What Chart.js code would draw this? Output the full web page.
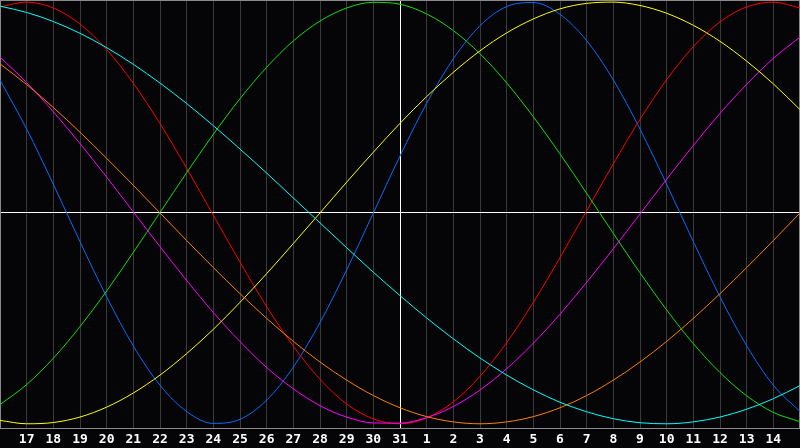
<!DOCTYPE html>
<html><head><meta charset="utf-8">
<script src="https://cdn.jsdelivr.net/npm/chart.js@4.4.1/dist/chart.umd.min.js"></script>
<style>html,body{margin:0;padding:0;background:#050508;overflow:hidden}#wrap{width:800px;height:448px;position:relative}</style>
</head><body><div id="wrap"><canvas id="c" width="800" height="448"></canvas></div>
<script>
const dayLabels = ['16','17','18','19','20','21','22','23','24','25','26','27','28','29','30','31','1','2','3','4','5','6','7','8','9','10','11','12','13','14','15'];
const physical = [0.630,0.398,0.136,-0.136,-0.398,-0.631,-0.817,-0.942,-0.998,-0.979,-0.888,-0.731,-0.520,-0.270,0.000,0.270,0.520,0.731,0.888,0.979,0.998,0.942,0.817,0.631,0.398,0.136,-0.136,-0.398,-0.630,-0.817,-0.942];
const emotional = [0.977,1.000,0.972,0.896,0.775,0.615,0.424,0.212,-0.011,-0.233,-0.444,-0.632,-0.789,-0.906,-0.977,-1.000,-0.972,-0.896,-0.775,-0.615,-0.424,-0.212,0.011,0.233,0.444,0.632,0.789,0.906,0.977,1.000,0.972];
const intellectual = [-0.909,-0.814,-0.689,-0.539,-0.370,-0.187,0.002,0.191,0.373,0.542,0.691,0.816,0.910,0.972,0.999,0.990,0.944,0.865,0.755,0.617,0.456,0.280,0.093,-0.097,-0.284,-0.460,-0.620,-0.757,-0.867,-0.946,-0.990];
const intuitive = [0.739,0.618,0.480,0.329,0.170,0.005,-0.160,-0.320,-0.472,-0.610,-0.733,-0.834,-0.914,-0.968,-0.996,-0.997,-0.971,-0.918,-0.840,-0.739,-0.618,-0.480,-0.329,-0.170,-0.005,0.160,0.320,0.472,0.610,0.733,0.834];
const aesthetic = [-0.984,-1.000,-0.994,-0.968,-0.921,-0.854,-0.769,-0.667,-0.552,-0.424,-0.288,-0.145,0.000,0.146,0.288,0.425,0.552,0.667,0.769,0.854,0.920,0.968,0.994,1.000,0.984,0.947,0.890,0.814,0.720,0.612,0.490];
const awareness = [0.707,0.609,0.500,0.383,0.259,0.131,0.000,-0.131,-0.259,-0.383,-0.500,-0.609,-0.707,-0.793,-0.866,-0.924,-0.966,-0.991,-1.000,-0.991,-0.966,-0.924,-0.866,-0.793,-0.707,-0.609,-0.500,-0.383,-0.259,-0.131,0.000];
const spiritual = [0.981,0.951,0.908,0.852,0.784,0.705,0.616,0.519,0.414,0.303,0.189,0.071,-0.047,-0.165,-0.281,-0.392,-0.498,-0.597,-0.688,-0.769,-0.839,-0.898,-0.943,-0.976,-0.995,-1.000,-0.991,-0.968,-0.931,-0.881,-0.819];
const todayIndex = 15;

const series = [
  {label:'Spiritual', data:spiritual, color:'#00ffff'},
  {label:'Awareness', data:awareness, color:'#ff8000'},
  {label:'Aesthetic', data:aesthetic, color:'#ffff00'},
  {label:'Intuitive', data:intuitive, color:'#ff00ff'},
  {label:'Intellectual', data:intellectual, color:'#10e010'},
  {label:'Emotional', data:emotional, color:'#ff0000'},
  {label:'Physical', data:physical, color:'#0a6cff'}
];

const frame = {
  id:'frame',
  beforeDatasetsDraw(chart){
    const {ctx, chartArea:a} = chart;
    ctx.save();
    ctx.strokeStyle = '#8a8a8a';
    ctx.lineWidth = 1;
    ctx.strokeRect(a.left+0.5, a.top+0.5, a.right-a.left-1, a.bottom-a.top);
    ctx.restore();
  }
};

new Chart(document.getElementById('c'), {
  type:'line',
  data:{
    labels:dayLabels,
    datasets:series.map(s=>({
      label:s.label, data:s.data, borderColor:s.color, backgroundColor:s.color,
      borderWidth:1, pointRadius:0, pointHoverRadius:0, pointBorderWidth:0, fill:false, cubicInterpolationMode:'monotone'
    }))
  },
  plugins:[frame],
  options:{
    responsive:false, animation:false, devicePixelRatio:1,
    layout:{padding:0, autoPadding:false},
    plugins:{legend:{display:false}, tooltip:{enabled:false}},
    scales:{
      x:{
        type:'category', offset:false,
        grid:{color:ctx=>ctx.index===todayIndex?'#ffffff':'#3a3a3a', lineWidth:1, drawTicks:false},
        border:{display:false},
        ticks:{color:'#ffffff', autoSkip:false, maxRotation:0, padding:4,
          font:{family:'DejaVu Sans Mono', weight:'bold', size:13},
          callback:(v,i)=>(i===0||i===dayLabels.length-1)?'':dayLabels[i]},
        afterFit:s=>{s.height=20; s.paddingLeft=0; s.paddingRight=0;}
      },
      y:{
        min:-1.02, max:1.01,
        grid:{color:ctx=>ctx.tick&&ctx.tick.value===0?'#ffffff':'rgba(0,0,0,0)', drawTicks:false},
        border:{display:false},
        ticks:{display:false},
        afterBuildTicks:s=>{s.ticks=[{value:0}];},
        afterFit:s=>{s.width=0;}
      }
    }
  }
});
</script>
</body></html>
